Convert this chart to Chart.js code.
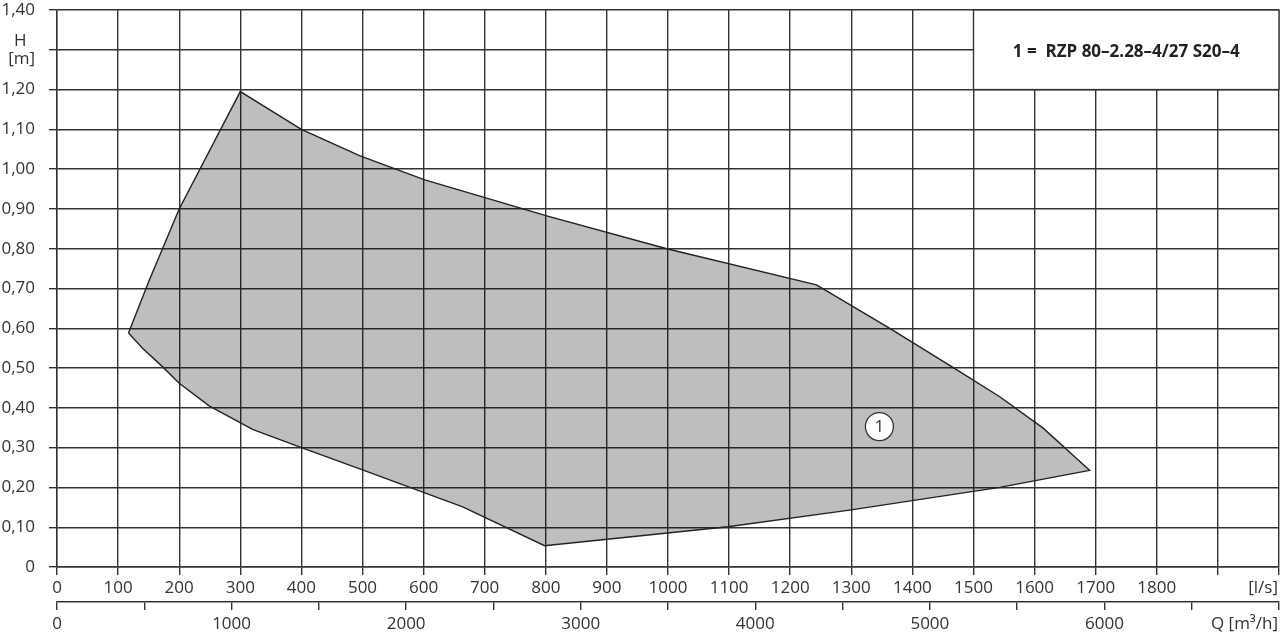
<!DOCTYPE html>
<html>
<head>
<meta charset="utf-8">
<script src="https://cdn.jsdelivr.net/npm/chart.js@4.4.1/dist/chart.umd.min.js"></script>
<style>
  html, body { margin: 0; padding: 0; background: #fff; overflow: hidden; }
  canvas { display: block; }
</style>
</head>
<body>
<canvas id="pump-chart" width="1280" height="634"></canvas>
<script>
// operating field of the pump, going round from the leftmost corner
const envelopeFlow = [117, 151, 200, 300, 400, 495, 602, 803, 998, 1243, 1363, 1467, 1543, 1614, 1690,
  1543, 1297, 1098, 798, 664, 500, 400, 320, 249, 200, 173, 140, 117];
const envelopeHead = [0.588, 0.721, 0.90, 1.195, 1.10, 1.034, 0.973, 0.882, 0.80, 0.709, 0.60, 0.501, 0.428, 0.349, 0.243,
  0.200, 0.143, 0.101, 0.0535, 0.151, 0.244, 0.30, 0.346, 0.405, 0.462, 0.503, 0.55, 0.588];

const curveNumbers = ['1'];
const curveNames = ['RZP 80–2.28–4/27 S20–4'];
const curveLabelFlow = [1346];
const curveLabelHead = [0.353];

// tick labels, indexed by tick number
const flowTickLabels = ['0', '100', '200', '300', '400', '500', '600', '700', '800', '900', '1000',
  '1100', '1200', '1300', '1400', '1500', '1600', '1700', '1800', '', ''];
const volumeTickLabels = ['0', '', '1000', '', '2000', '', '3000', '', '4000', '', '5000', '', '6000', '', ''];
const headTickLabels = ['0', '0,10', '0,20', '0,30', '0,40', '0,50', '0,60', '0,70', '0,80', '0,90', '1,00',
  '1,10', '1,20', ['H\u2002', '[m]'], '1,40'];

const flowUnit = '[l/s]';
const volumeUnit = 'Q [m³/h]';

const FLOW_MAX = 2000;
const HEAD_MAX = 1.4;
const LINE = '#333333';
const TEXT = '#333333';
const FONT = 'Open Sans, Liberation Sans, sans-serif';
const PADDING = { top: 10, right: 1, left: 0, bottom: 0 };

// chart.js keeps extra room for tick labels we leave empty, so pin the plot area
const plotAreaPlugin = {
  id: 'plotArea',
  afterLayout(chart) {
    const area = chart.chartArea;
    area.top = PADDING.top;
    area.right = chart.width - PADDING.right;
    area.width = area.right - area.left;
    area.height = area.bottom - area.top;

    Object.values(chart.scales).forEach((scale) => {
      if (scale.isHorizontal()) {
        scale.left = area.left;
        scale.right = area.right;
        scale.width = area.width;
      } else {
        scale.top = area.top;
        scale.bottom = area.bottom;
        scale.height = area.height;
      }
      scale.configure();
    });
  },
};

const annotationsPlugin = {
  id: 'annotations',
  afterDraw(chart) {
    const { ctx, chartArea } = chart;
    const { x, x2, y } = chart.scales;

    ctx.save();

    // legend box in the top right corner
    const left = x.getPixelForValue(1500);
    const right = x.getPixelForValue(FLOW_MAX);
    const top = y.getPixelForValue(HEAD_MAX);
    const bottom = y.getPixelForValue(1.2);
    ctx.fillStyle = '#fff';
    ctx.fillRect(left, top, right - left, bottom - top);
    ctx.strokeStyle = LINE;
    ctx.lineWidth = 1.4;
    ctx.strokeRect(left, top, right - left, bottom - top);

    ctx.fillStyle = '#222';
    ctx.font = `bold 17px ${FONT}`;
    ctx.textAlign = 'center';
    ctx.textBaseline = 'middle';
    ctx.fillText(`${curveNumbers[0]} =  ${curveNames[0]}`, (left + right) / 2, (top + bottom) / 2 + 2);

    // curve number inside the marker
    const marker = chart.getDatasetMeta(0).data[0];
    ctx.font = `17px ${FONT}`;
    ctx.fillStyle = TEXT;
    ctx.fillText(curveNumbers[0], marker.x, marker.y + 1);

    // axis units
    ctx.textAlign = 'right';
    ctx.fillText(flowUnit, chartArea.right - 1, x.top + 21);
    ctx.fillText(volumeUnit, chartArea.right - 1, x2.top + 22);

    ctx.restore();
  },
};

const gridStyle = {
  color: LINE,
  lineWidth: 1.4,
  tickLength: 8,
};

const fitHorizontal = (height) => (scale) => {
  scale.height = height;
  scale.paddingLeft = 0;
  scale.paddingRight = 0;
};

const chart = new Chart(document.getElementById('pump-chart'), {
  type: 'scatter',
  data: {
    datasets: [
      {
        label: 'marker',
        data: curveLabelFlow.map((q, i) => ({ x: q, y: curveLabelHead[i] })),
        pointRadius: 14,
        pointBackgroundColor: '#fff',
        pointBorderColor: LINE,
        pointBorderWidth: 1.3,
        order: 0,
      },
      {
        label: curveNames[0],
        data: envelopeFlow.map((q, i) => ({ x: q, y: envelopeHead[i] })),
        showLine: true,
        fill: 'shape',
        backgroundColor: 'rgba(1, 5, 12, 0.26)',
        borderColor: '#222',
        borderWidth: 1.4,
        pointRadius: 0,
        tension: 0,
        order: 1,
      },
    ],
  },
  options: {
    responsive: false,
    animation: false,
    layout: { padding: PADDING },
    plugins: {
      legend: { display: false },
      tooltip: { enabled: false },
    },
    scales: {
      x: {
        type: 'linear',
        position: 'bottom',
        min: 0,
        max: FLOW_MAX,
        grid: gridStyle,
        border: { color: LINE, width: 1.4 },
        ticks: {
          stepSize: 100,
          maxRotation: 0,
          autoSkip: false,
          padding: 3,
          color: TEXT,
          font: { family: FONT, size: 17 },
          callback: (value) => flowTickLabels[Math.round(value / 100)] ?? '',
        },
        afterFit: fitHorizontal(35),
      },
      x2: {
        type: 'linear',
        position: 'bottom',
        min: 0,
        max: FLOW_MAX * 3.6,
        grid: { ...gridStyle, drawOnChartArea: false },
        border: { color: LINE, width: 1.4 },
        ticks: {
          stepSize: 500,
          includeBounds: false,
          maxRotation: 0,
          autoSkip: false,
          padding: 4,
          color: TEXT,
          font: { family: FONT, size: 17 },
          callback: (value) => volumeTickLabels[Math.round(value / 500)] ?? '',
        },
        afterFit: fitHorizontal(32),
      },
      y: {
        type: 'linear',
        position: 'left',
        min: 0,
        max: HEAD_MAX,
        grid: gridStyle,
        border: { color: LINE, width: 1.4 },
        ticks: {
          stepSize: 0.1,
          autoSkip: false,
          padding: 14,
          color: TEXT,
          font: { family: FONT, size: 17, lineHeight: 1.05 },
          callback: (value) => headTickLabels[Math.round(value * 10)] ?? '',
        },
        afterFit: (scale) => {
          scale.width = 57;
          scale.paddingTop = 0;
          scale.paddingBottom = 0;
        },
      },
    },
  },
  plugins: [plotAreaPlugin, annotationsPlugin],
});
</script>
</body>
</html>
